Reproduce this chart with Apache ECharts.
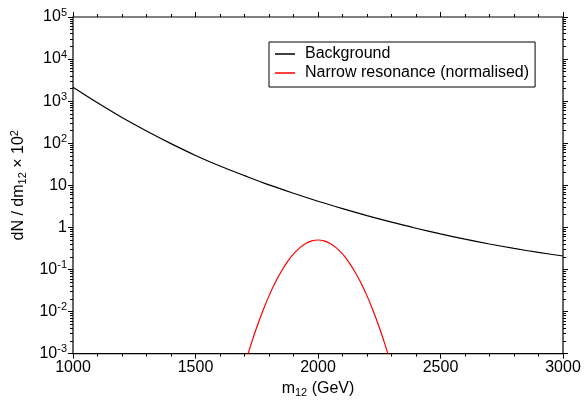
<!DOCTYPE html>
<html>
<head>
<meta charset="utf-8">
<script src="https://cdn.jsdelivr.net/npm/echarts@6/dist/echarts.min.js"></script>
<style>html,body{margin:0;padding:0;background:#fff}#c{width:585px;height:403px}</style>
</head>
<body>
<div id="c"></div>
<script>
// Background curve, x in GeV
var bgMass = [1000,1100,1200,1300,1400,1500,1600,1700,1800,1900,2000,2100,2200,2300,2400,2500,2600,2700,2800,2900,3000];
var bgValues = [2138,912,407,195,97.7,51.3,28.8,17.0,10.2,6.46,4.17,2.79,1.91,1.33,0.955,0.70,0.525,0.403,0.316,0.254,0.209];
// Narrow resonance (normalised)
var resMass = [1700,1725,1750,1775,1800,1825,1850,1875,1900,1925,1950,1975,2000,2025,2050,2075,2100,2125,2150,2175,2200,2225,2250,2275,2300];
var resValues = [0.000515,0.001545,0.00422,0.01045,0.02355,0.0482,0.0897,0.1518,0.2333,0.326,0.414,0.4776,0.501,0.4776,0.414,0.326,0.2333,0.1518,0.0897,0.0482,0.02355,0.01045,0.00422,0.001545,0.000515];
var seriesNames = ['Background', 'Narrow resonance (normalised)'];
var xMajorTicks = [1000,1500,2000,2500,3000];
var xMinorTicks = [1100,1200,1300,1400,1600,1700,1800,1900,2100,2200,2300,2400,2600,2700,2800,2900];
var yMajorTicks = [0.001,0.01,0.1,1,10,100,1000,10000,100000];
var yTickExp = {'100000':'5','10000':'4','1000':'3','100':'2','0.1':'-1','0.01':'-2','0.001':'-3'};

var minorY = [];
for (var d = -3; d <= 4; d++) {
  for (var k = 2; k <= 9; k++) minorY.push(+(k * Math.pow(10, d)).toPrecision(3));
}

var FONT = 'Liberation Sans, Arial, sans-serif';
var chart = echarts.init(document.getElementById('c'), null, {renderer: 'canvas'});

function yLab(v) {
  var key = String(+v.toPrecision(6));
  if (key === '10') return '{n|10}';
  if (key === '1') return '{n|1}';
  if (yTickExp[key] !== undefined) return '{n|10}{s|' + yTickExp[key] + '}';
  return '';
}

function tick(len, vals) {
  return {axisTick: {show: true, length: len, customValues: vals}};
}
function xAx(pos, t) {
  return Object.assign({
    type: 'value', min: 1000, max: 3000, interval: 500, position: pos,
    axisLine: {show: false, lineStyle: {color: '#000'}}, axisLabel: {show: false}, splitLine: {show: false}
  }, t);
}
function yAx(pos, t) {
  return Object.assign({
    type: 'log', logBase: 10, min: 0.001, max: 100000, position: pos,
    axisLine: {show: false, lineStyle: {color: '#000'}}, axisLabel: {show: false}, splitLine: {show: false}
  }, t);
}

chart.setOption({
  animation: false,
  backgroundColor: '#fff',
  grid: {left: 73, right: 22, top: 17, bottom: 42, show: true, borderColor: '#000', borderWidth: 1.2, backgroundColor: 'transparent'},
  legend: {
    orient: 'vertical', left: 269, top: 42,
    padding: [3, 6, 5, 6],
    itemWidth: 20, itemHeight: 1.5, itemGap: 1,
    icon: 'rect',
    borderColor: '#000', borderWidth: 1, borderRadius: 0,
    backgroundColor: '#fff',
    textStyle: {fontFamily: FONT, fontSize: 16, color: '#000', lineHeight: 18, padding: [0, 0, 0, 5]},
    data: seriesNames
  },
  xAxis: [
    {
      type: 'value', min: 1000, max: 3000, interval: 500, position: 'bottom',
      axisLine: {show: false}, axisTick: {show: false},
      axisLabel: {fontFamily: FONT, fontSize: 16, color: '#000', margin: 6,
        formatter: function (v) { return String(v); }},
      splitLine: {show: false},
      name: '{n|m}{sub|12}{n| (GeV)}', nameLocation: 'middle', nameGap: 24,
      nameTextStyle: {fontFamily: FONT, color: '#000',
        rich: {n: {fontFamily: FONT, fontSize: 16, color: '#000'},
               sub: {fontFamily: FONT, fontSize: 11, color: '#000', padding: [8, 0, 0, 0]}}}
    },
    xAx('bottom', tick(5, xMajorTicks)),
    xAx('bottom', tick(3, xMinorTicks)),
    xAx('top', tick(5, xMajorTicks)),
    xAx('top', tick(3, xMinorTicks))
  ],
  yAxis: [
    {
      type: 'log', logBase: 10, min: 0.001, max: 100000, position: 'left',
      axisLine: {show: false}, axisTick: {show: false}, splitLine: {show: false},
      axisLabel: {
        margin: 6, formatter: yLab, fontFamily: FONT, color: '#000',
        rich: {n: {fontFamily: FONT, fontSize: 16, color: '#000'},
               s: {fontFamily: FONT, fontSize: 11, color: '#000', padding: [0, 0, 9, 0]}}
      },
      name: '{n|dN / dm}{sub|12}{n| × 10}{sup|2}', nameLocation: 'middle', nameGap: 44, nameRotate: 90,
      nameTextStyle: {fontFamily: FONT, color: '#000',
        rich: {n: {fontFamily: FONT, fontSize: 16, color: '#000'},
               sub: {fontFamily: FONT, fontSize: 11, color: '#000', padding: [8, 0, 0, 0]},
               sup: {fontFamily: FONT, fontSize: 11, color: '#000', padding: [0, 0, 9, 0]}}}
    },
    yAx('left', tick(5, yMajorTicks)),
    yAx('left', tick(3, minorY)),
    yAx('right', tick(5, yMajorTicks)),
    yAx('right', tick(3, minorY))
  ],
  series: [
    {
      name: seriesNames[0], type: 'line', xAxisIndex: 0, yAxisIndex: 0,
      data: bgMass.map(function (m, i) { return [m, bgValues[i]]; }),
      showSymbol: false, symbol: 'none', smooth: 0.3, clip: true,
      lineStyle: {color: '#000', width: 1.2}, itemStyle: {color: '#000'}
    },
    {
      name: seriesNames[1], type: 'line', xAxisIndex: 0, yAxisIndex: 0,
      data: resMass.map(function (m, i) { return [m, resValues[i]]; }),
      showSymbol: false, symbol: 'none', smooth: 0.3, clip: true,
      lineStyle: {color: '#ff0000', width: 1.2}, itemStyle: {color: '#ff0000'}
    }
  ]
});
</script>
</body>
</html>
